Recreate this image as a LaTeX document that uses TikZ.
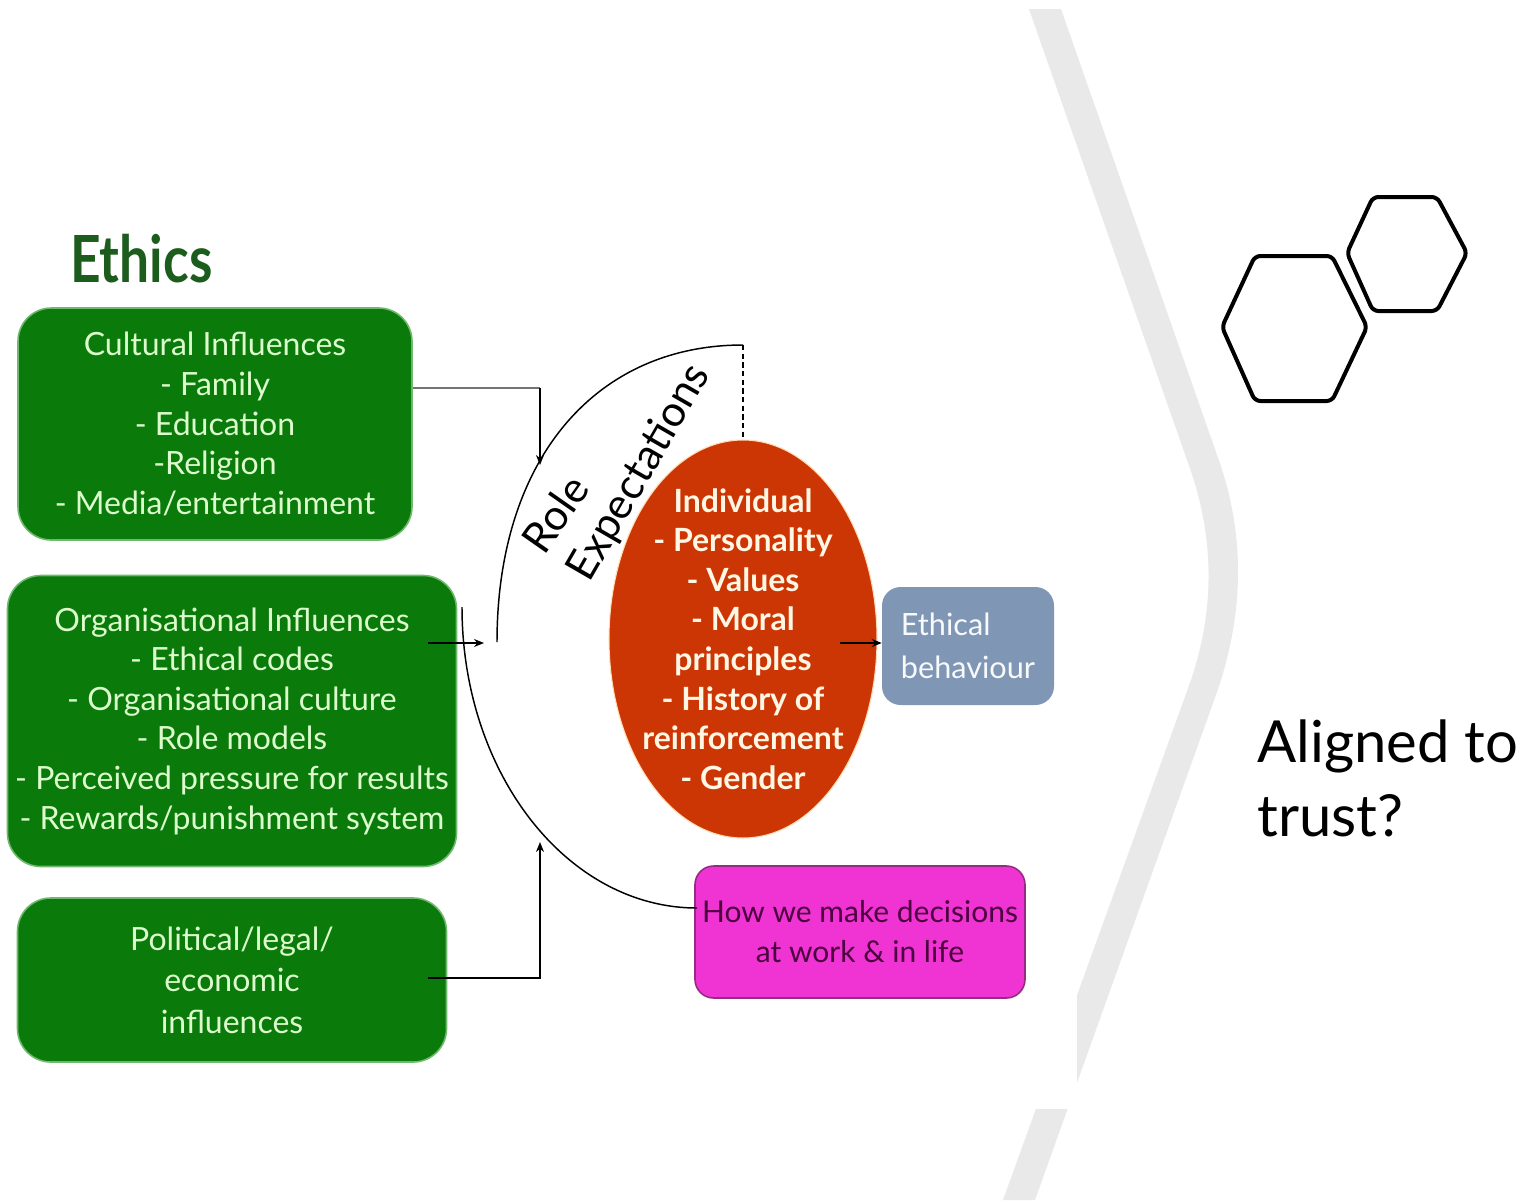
\documentclass[tikz,border=0pt]{standalone}
\usepackage{fontspec}
\setmainfont{Lato}
\usetikzlibrary{arrows.meta,shapes.geometric}
\definecolor{bandgray}{RGB}{233,233,233}
\definecolor{gfill}{RGB}{10,122,10}
\definecolor{gborder}{RGB}{110,185,110}
\definecolor{gtext}{RGB}{220,252,205}
\definecolor{titlegreen}{RGB}{28,92,28}
\definecolor{redfill}{RGB}{204,54,4}
\definecolor{redtext}{RGB}{255,246,228}
\definecolor{bluegray}{RGB}{128,150,181}
\definecolor{pinkfill}{RGB}{240,52,212}
\definecolor{pinkborder}{RGB}{150,44,130}
\definecolor{pinktext}{RGB}{76,0,62}
\begin{document}
\begin{tikzpicture}[x=0.75pt,y=-0.75pt,
  gbox/.style={fill=gfill, draw=gborder, line width=1.2pt, rounded corners=25pt,
    text=gtext, align=center, inner sep=0pt, font=\fontsize{24}{29.7}\selectfont},
  arr/.style={draw=black, line width=1.1pt, -{Stealth[length=7.5pt,width=6pt]}},
  thinline/.style={draw=black, line width=1.1pt},
  rolefont/.style={font=\fontsize{32}{38}\selectfont, inner sep=1pt},
  hexa/.style={draw=black, line width=3pt, rounded corners=4pt, line join=round}]
\useasboundingbox (0,0) rectangle (1521,1200);
\fill[white] (0,0) rectangle (1521,1200);
% background chevron band
\fill[bandgray] (1029,9) -- (1187,460) .. controls (1214.3,533.3) and (1215.7,606.7) .. (1191,680)
  -- (1003,1200) -- (1035,1200) -- (1217,692) .. controls (1245,610.7) and (1245,531.7) .. (1217,455)
  -- (1061,9) -- cycle;
% white area of the embedded diagram
\fill[white] (0,150) rectangle (1077,1109);

% title
\node[anchor=base west, inner sep=0pt, text=titlegreen, font=\fontsize{48.75}{50}\selectfont\bfseries] (title) at (70,282) {\scalebox{0.82}[1]{Ethics}};

% green boxes
\node[gbox, minimum width=295.5pt, minimum height=174pt] (cult) at (215,424)
  {Cultural Influences\\- Family\\- Education\\-Religion\\- Media/entertainment};
\node[gbox, minimum width=336.75pt, minimum height=218.25pt] (org) at (232,721)
  {Organisational Influences\\- Ethical codes\\- Organisational culture\\- Role models\\- Perceived pressure for results\\- Rewards/punishment system};
\node[gbox, minimum width=321.75pt, minimum height=123pt, font=\fontsize{24}{31}\selectfont] (pol) at (232,980)
  {Political/legal/\\economic\\influences};

% individual ellipse
\node[ellipse, fill=redfill, draw=redtext!80!orange, line width=0.8pt, minimum width=201pt, minimum height=298.5pt,
  inner sep=0pt] (indiv) at (743,639) {};
\node[text=redtext, align=center, inner sep=0pt, font=\fontsize{24}{29.7}\selectfont\bfseries] (indivtext) at (743,639)
  {Individual\\- Personality\\- Values\\- Moral\\principles\\- History of\\reinforcement\\- Gender};

% ethical behaviour
\node[fill=bluegray, rounded corners=14pt, minimum width=129pt, minimum height=88.5pt, inner sep=0pt,
  text=white!94!bluegray, align=left, font=\fontsize{23}{32}\selectfont] (eb) at (968,646)
  {Ethical\\behaviour};

% decisions box
\node[fill=pinkfill, draw=pinkborder, line width=1.2pt, rounded corners=14pt, minimum width=247.5pt, minimum height=99pt,
  inner sep=0pt, text=pinktext, align=center, font=\fontsize{22.5}{30}\selectfont] (dec) at (860,932)
  {How we make decisions\\at work \& in life};

% role expectations
\coordinate (rtop) at (743,345);
\coordinate (rbot) at (497,642);
\draw[thinline] (rbot) .. controls (497,460) and (595,345) .. (rtop);
\draw[thinline, dashed, dash pattern=on 4pt off 2.5pt] (rtop) -- (indiv.north);
\node[rotate=55, rolefont] (role) at (555,514) {Role};
\node[rotate=60, rolefont] (expect) at (640,473) {Expectations};

% lower arc to decisions
\coordinate (lstart) at (462,607);
\coordinate (lend) at (697,908);
\draw[thinline] (lstart) .. controls (462,773) and (567,908) .. (lend);

% connectors
\coordinate (c1a) at (540,388);
\coordinate (c1b) at (540,465);
\draw[draw=black!55, line width=2pt] (cult.east |- c1a) -- (c1a);
\draw[arr] (c1a) -- (c1b);

\coordinate (c2a) at (428,643);
\coordinate (c2b) at (484,643);
\draw[arr] (c2a) -- (c2b);

\coordinate (c3a) at (428,978);
\coordinate (c3b) at (540,978);
\coordinate (c3c) at (540,842);
\draw[arr] (c3a) -- (c3b) -- (c3c);

\coordinate (e1) at (840,643);
\draw[arr] (e1) -- (eb.west |- e1);

% hexagons
\draw[hexa] (1222,327) -- (1255,256) -- (1332,256) -- (1367,327) -- (1332,401) -- (1255,401) -- cycle;
\draw[hexa] (1347,253) -- (1373,197) -- (1437,197) -- (1467,253) -- (1437,311) -- (1373,311) -- cycle;

% question
\node[anchor=base west, inner sep=0pt, font=\fontsize{43.5}{56}\selectfont] (q1) at (1257,762) {Aligned to};
\node[anchor=base west, inner sep=0pt, font=\fontsize{43.5}{56}\selectfont] (q2) at (1257,836) {trust?};
\end{tikzpicture}
\end{document}
